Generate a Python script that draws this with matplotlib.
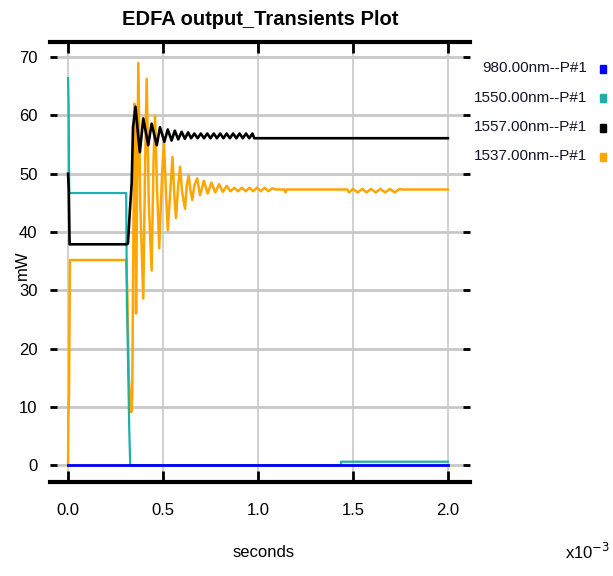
import matplotlib
matplotlib.use('Agg')
import matplotlib.pyplot as plt

plt.rcParams['font.family'] = ['Liberation Sans', 'DejaVu Sans']

# time in ms (axis is seconds x10^-3), power in mW
t_980 = [0.0, 2.0]
p_980 = [0.0, 0.0]

t_1550 = [0.0, 0.003, 0.006, 0.306, 0.310, 0.312, 0.322, 0.327, 0.33, 1.437, 1.437, 2.0]
p_1550 = [66.4, 61.7, 46.7, 46.7, 27.0, 25.0, 6.5, 0.3, 0.0, 0.0, 0.6, 0.6]

t_1557 = [0.0, 0.004, 0.008, 0.309, 0.315, 0.325, 0.335, 0.342, 0.355, 0.369, 0.378,
          0.396, 0.422, 0.440, 0.467, 0.484, 0.507, 0.525, 0.545, 0.562, 0.580, 0.598,
          0.615, 0.632, 0.648, 0.665, 0.682, 0.699, 0.716, 0.733, 0.750, 0.767, 0.784,
          0.801, 0.818, 0.835, 0.852, 0.869, 0.886, 0.903, 0.920, 0.937, 0.954, 0.971,
          0.980, 2.0]
p_1557 = [50.0, 47.0, 37.9, 37.9, 38.0, 43.4, 48.4, 58.0, 61.5, 56.6, 53.7,
          59.5, 54.9, 58.6, 54.9, 58.0, 55.5, 57.6, 55.7, 57.4, 55.9, 57.2,
          56.0, 57.1, 56.1, 56.9, 56.1, 56.9, 56.1, 56.9, 56.1, 56.9, 56.1,
          56.9, 56.1, 56.9, 56.1, 56.9, 56.1, 56.9, 56.1, 56.9, 56.1, 56.9,
          56.1, 56.1]

t_1537 = [0.0, 0.002, 0.005, 0.010, 0.305, 0.312, 0.320, 0.333, 0.338, 0.343, 0.350,
          0.354, 0.358, 0.364, 0.370, 0.380, 0.396, 0.405, 0.414, 0.425, 0.440, 0.450,
          0.458, 0.468, 0.480, 0.495, 0.505, 0.515, 0.525, 0.540, 0.550, 0.560, 0.568,
          0.580, 0.590, 0.600, 0.616, 0.625, 0.635, 0.645, 0.654, 0.665, 0.680, 0.695,
          0.715, 0.735, 0.755, 0.775, 0.795, 0.815, 0.835, 0.855, 0.875, 0.895, 0.915,
          0.935, 0.955, 0.975, 0.995, 1.015, 1.035, 1.055, 1.075, 1.095, 1.140, 1.145,
          1.150, 1.470, 1.480, 1.500, 1.525, 1.550, 1.572, 1.595, 1.620, 1.645, 1.670,
          1.695, 1.720, 1.745, 1.760, 2.0]
p_1537 = [0.0, 8.9, 12.0, 35.2, 35.2, 30.0, 15.0, 9.1, 12.0, 35.0, 62.0,
          56.0, 26.0, 50.0, 69.0, 45.0, 28.6, 50.0, 66.3, 45.0, 33.4, 52.0,
          60.0, 48.0, 37.2, 50.0, 55.5, 47.0, 40.3, 48.0, 52.9, 46.0, 42.4,
          48.0, 51.2, 47.0, 44.0, 48.0, 49.7, 47.0, 45.5, 48.0, 49.2, 46.3,
          48.8, 46.6, 48.5, 46.8, 48.2, 46.9, 47.9, 47.0, 47.6, 47.0, 47.6,
          47.0, 47.6, 47.0, 47.6, 47.0, 47.6, 47.0, 47.5, 47.3, 47.3, 46.8,
          47.3, 47.3, 46.8, 47.4, 46.8, 47.4, 46.8, 47.4, 46.8, 47.4, 46.8,
          47.4, 46.8, 47.4, 47.3, 47.3]

names = ['980.00nm--P#1', '1550.00nm--P#1', '1557.00nm--P#1', '1537.00nm--P#1']
colors = ['#0000ff', '#1bb0aa', '#000000', '#ffa500']

x_ticks = [0.0, 0.5, 1.0, 1.5, 2.0]
x_ticklabels = ['0.0', '0.5', '1.0', '1.5', '2.0']
y_ticks = [0, 10, 20, 30, 40, 50, 60, 70]

fig = plt.figure(figsize=(6.13, 5.76), dpi=100)
ax = fig.add_axes([0.0816, 0.163, 0.685, 0.764])

ax.plot(t_1537, p_1537, color=colors[3], lw=1.8, zorder=3)
ax.plot(t_1550, p_1550, color=colors[1], lw=1.6, zorder=4)
ax.plot(t_1557, p_1557, color=colors[2], lw=1.9, zorder=5)
ax.plot(t_980, p_980, color=colors[0], lw=2.0, zorder=6)

ax.set_xlim(-0.095, 2.116)
ax.set_ylim(-2.9, 72.6)

for y in y_ticks:
    ax.axhline(y, color='#c8c8c8', lw=2.0, zorder=1)
for x in x_ticks:
    ax.axvline(x, color='#c8c8c8', lw=1.2, zorder=1)

ax.set_xticks(x_ticks)
ax.set_xticklabels(x_ticklabels, fontsize=12)
ax.set_yticks(y_ticks)
ax.set_yticklabels([str(y) for y in y_ticks], fontsize=12)
ax.tick_params(axis='both', direction='in', length=5, width=2, color='black',
               top=True, right=True, pad=9)
ax.tick_params(axis='x', length=8, pad=15)

ax.spines['left'].set_visible(False)
ax.spines['right'].set_visible(False)
ax.spines['top'].set_linewidth(3)
ax.spines['bottom'].set_linewidth(3)

ax.set_title('EDFA output_Transients Plot', fontsize=14.5, fontweight='bold', pad=12)
fig.text(0.036, 0.54, 'mW', rotation=90, fontsize=12, ha='center', va='center')
fig.text(0.43, 0.04, 'seconds', fontsize=12, ha='center', va='center')
fig.text(0.958, 0.042, 'x10$^{-3}$', fontsize=12, ha='center', va='center')

# legend on the right
for i in range(len(names)):
    yy = 1 - (68 + i * 29.5) / 576
    fig.text(0.958, yy, names[i], fontsize=11, ha='right', va='center', color='#14142a')
    fig.patches.append(plt.Rectangle((0.978, yy - 0.008), 0.011, 0.014, color=colors[i],
                                     transform=fig.transFigure, figure=fig))

plt.savefig('out.png', dpi=100)
